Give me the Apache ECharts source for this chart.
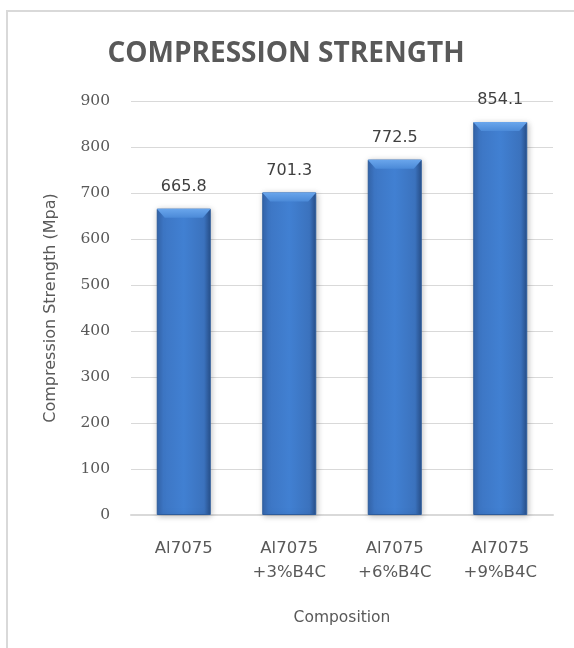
<!DOCTYPE html>
<html>
<head>
<meta charset="utf-8">
<script src="https://cdn.jsdelivr.net/npm/echarts@6/dist/echarts.min.js"></script>
<style>
  html, body { margin: 0; padding: 0; background: #fff; }
  #frame { position: absolute; left: 6px; top: 10px; width: 568px; height: 638px;
           border-left: 2px solid #d9d9d9; border-top: 2px solid #d9d9d9; box-sizing: border-box; }
  #chart { position: absolute; left: 0; top: 0; width: 574px; height: 648px; }
</style>
</head>
<body>
<div id="frame"></div>
<div id="chart"></div>
<script>
// Compression strength by composition
const categories = ['Al7075', 'Al7075\n+3%B4C', 'Al7075\n+6%B4C', 'Al7075\n+9%B4C'];
const strengthValues = [665.8, 701.3, 772.5, 854.1];
const yTicks = { min: 0, max: 900, interval: 100 };

const chart = echarts.init(document.getElementById('chart'), null, { renderer: 'canvas' });

const barFill = new echarts.graphic.LinearGradient(0, 0, 1, 0, [
  { offset: 0, color: '#3566ad' },
  { offset: 0.12, color: '#3d76c4' },
  { offset: 0.5, color: '#4180d2' },
  { offset: 0.88, color: '#3b72bd' },
  { offset: 1, color: '#274f8a' }
]);

const capFill = new echarts.graphic.LinearGradient(0, 0, 0, 1, [
  { offset: 0, color: '#6aa6ec' },
  { offset: 1, color: '#4b8ad8' }
]);

chart.setOption({
  animation: false,
  title: {
    text: 'COMPRESSION STRENGTH',
    left: 281, top: 35, textAlign: 'center',
    textStyle: { fontFamily: 'Open Sans', fontWeight: 'bold', fontSize: 28, color: '#595959' }
  },
  grid: { left: 131, right: 21, top: 101, bottom: 133 },
  xAxis: {
    type: 'category',
    data: categories,
    name: 'Composition',
    nameLocation: 'middle',
    nameGap: 95,
    nameTextStyle: { fontFamily: 'DejaVu Sans', fontSize: 15.5, color: '#595959' },
    axisLine: { lineStyle: { color: '#d9d9d9', width: 2 } },
    axisTick: { show: false },
    axisLabel: { margin: 22, fontFamily: 'DejaVu Sans', fontSize: 16.5, color: '#595959', lineHeight: 24 }
  },
  yAxis: {
    type: 'value',
    min: yTicks.min, max: yTicks.max, interval: yTicks.interval,
    name: 'Compression Strength (Mpa)',
    nameLocation: 'middle',
    nameGap: 72,
    nameTextStyle: { fontFamily: 'DejaVu Sans', fontSize: 16, color: '#595959' },
    axisLine: { show: false },
    axisTick: { show: false },
    axisLabel: { margin: 21, fontFamily: 'DejaVu Serif', fontSize: 15.5, color: '#595959' },
    splitLine: { lineStyle: { color: '#d9d9d9', width: 1 } }
  },
  series: [
    {
      type: 'bar',
      data: strengthValues,
      barWidth: 54,
      itemStyle: {
        color: barFill,
        borderColor: '#2d5c9c',
        borderWidth: 1,
        shadowColor: 'rgba(0,0,0,0.25)',
        shadowBlur: 6,
        shadowOffsetX: 1,
        shadowOffsetY: 1
      },
      label: {
        show: true,
        position: 'top',
        distance: 14,
        fontFamily: 'DejaVu Sans',
        fontSize: 16,
        color: '#404040',
        formatter: p => p.value.toFixed(1)
      },
      z: 2
    },
    {
      // bevelled top edge of each bar
      type: 'pictorialBar',
      data: strengthValues,
      symbol: 'path://M0,0 L54,0 L46,9 L8,9 Z',
      symbolSize: [54, 9],
      symbolPosition: 'end',
      symbolOffset: [0, 0],
      itemStyle: { color: capFill },
      silent: true,
      z: 3
    }
  ]
});
</script>
</body>
</html>
